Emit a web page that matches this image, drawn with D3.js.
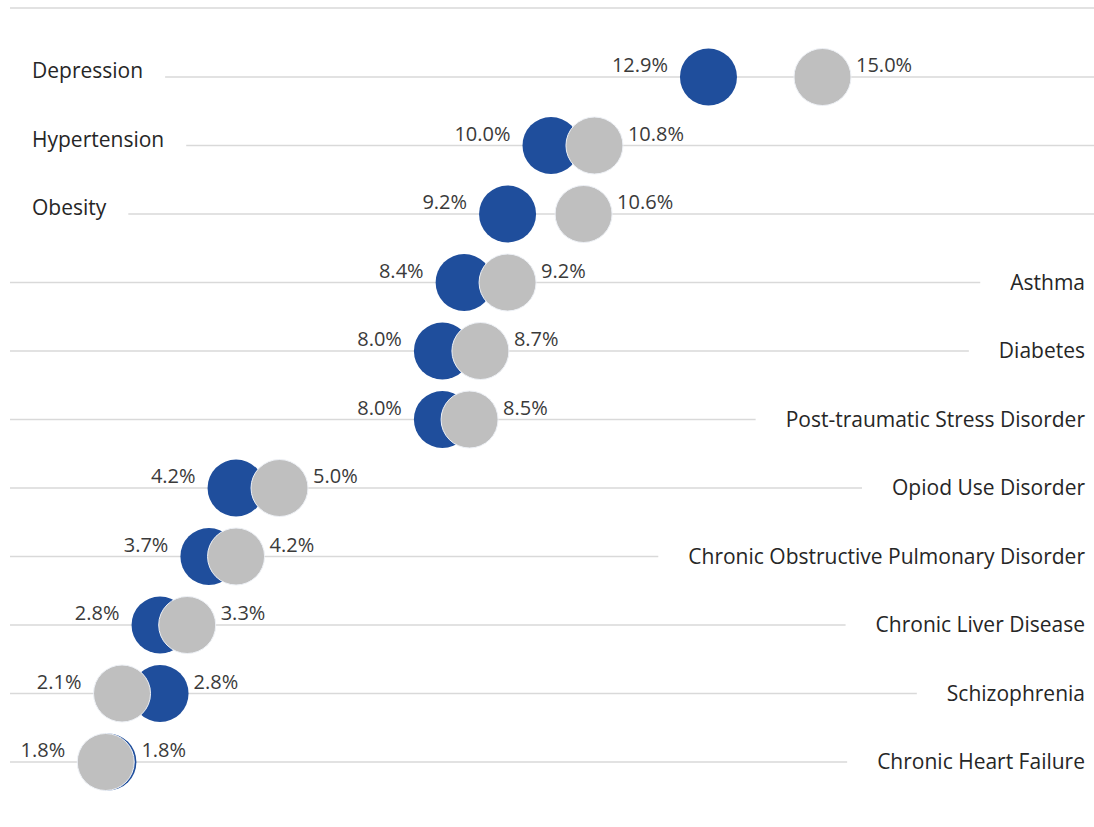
<!DOCTYPE html>
<html>
<head>
<meta charset="utf-8">
<script src="https://cdn.jsdelivr.net/npm/d3@7"></script>
<style>
  html, body { margin: 0; padding: 0; background: #ffffff; }
  svg { display: block; }
</style>
</head>
<body>
<svg id="chart" width="1094" height="827"></svg>
<script>
// ---- data ----
const categories = [
  "Depression", "Hypertension", "Obesity", "Asthma", "Diabetes",
  "Post-traumatic Stress Disorder", "Opiod Use Disorder",
  "Chronic Obstructive Pulmonary Disorder", "Chronic Liver Disease",
  "Schizophrenia", "Chronic Heart Failure"
];
const blueValues = [12.9, 10.0, 9.2, 8.4, 8.0, 8.0, 4.2, 3.7, 2.8, 2.8, 1.84];
const grayValues = [15.0, 10.8, 10.6, 9.2, 8.7, 8.5, 5.0, 4.2, 3.3, 2.1, 1.8];
const leftLabeled = ["Depression", "Hypertension", "Obesity"];

// ---- layout ----
const W = 1094, H = 827;
const svg = d3.select("#chart");
const x = d3.scaleLinear().domain([0, 20]).range([8, 1094]);
const y = d3.scalePoint().domain(categories).range([77, 762]);
const R = 28.5;
const blue = "#1f4e9c", gray = "#bfbfbf";
const gridColor = "#d9d9d9";
const textColor = "#3a3a3a";
const font = "'Open Sans', 'Segoe UI', sans-serif";

// top rule
svg.append("line")
  .attr("x1", 10).attr("x2", W).attr("y1", 8).attr("y2", 8)
  .attr("stroke", gridColor).attr("stroke-width", 1.5);

const rows = categories.map((c, i) => ({ cat: c, b: blueValues[i], g: grayValues[i] }));

// category labels and row lines
const rowG = svg.append("g");
rows.forEach(d => {
  const left = leftLabeled.includes(d.cat);
  const yy = y(d.cat);
  const t = rowG.append("text")
    .attr("font-family", font)
    .attr("font-size", 21)
    .attr("fill", "#262626")
    .text(d.cat);
  if (left) {
    t.attr("x", 32).attr("y", yy + 1).attr("text-anchor", "start");
    const tw = t.node().getComputedTextLength();
    rowG.insert("line", "text")
      .attr("x1", 32 + tw + 22).attr("x2", W)
      .attr("y1", yy).attr("y2", yy)
      .attr("stroke", gridColor).attr("stroke-width", 1.5);
  } else {
    t.attr("x", 1085).attr("y", yy + 7).attr("text-anchor", "end");
    const tw = t.node().getComputedTextLength();
    rowG.insert("line", "text")
      .attr("x1", 10).attr("x2", 1085 - tw - 30)
      .attr("y1", yy).attr("y2", yy)
      .attr("stroke", gridColor).attr("stroke-width", 1.5);
  }
});

// dots: blue first, gray on top
const dots = svg.append("g");
dots.selectAll("circle.blue").data(rows).join("circle")
  .attr("class", "blue")
  .attr("cx", d => x(d.b)).attr("cy", d => y(d.cat)).attr("r", R)
  .attr("fill", blue);
dots.selectAll("circle.gray").data(rows).join("circle")
  .attr("class", "gray")
  .attr("cx", d => x(d.g)).attr("cy", d => y(d.cat)).attr("r", R)
  .attr("fill", gray)
  .attr("stroke", "#eef1f6").attr("stroke-width", 1);

// data labels: lower value on the left, higher value on the right
const fmt = v => d3.format(".1f")(v) + "%";
const labG = svg.append("g")
  .attr("font-family", font).attr("font-size", 20).attr("fill", textColor);
rows.forEach(d => {
  const yy = y(d.cat) - 5;
  const blueLeft = d.b <= d.g;
  const lo = blueLeft ? d.b : d.g;
  const hi = blueLeft ? d.g : d.b;
  labG.append("text")
    .attr("x", x(lo) - R - 12).attr("y", yy)
    .attr("text-anchor", "end").text(fmt(lo));
  labG.append("text")
    .attr("x", x(hi) + R + 5).attr("y", yy)
    .attr("text-anchor", "start").text(fmt(hi));
});
</script>
</body>
</html>
